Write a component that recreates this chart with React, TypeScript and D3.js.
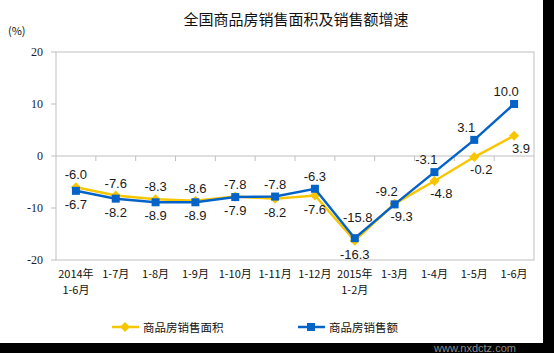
import React from "react";
import * as d3 from "d3";

const W = 554;
const H = 353;
const margin = { top: 52, right: 20, bottom: 93, left: 56 };

const categories = ["2014年\n1-6月", "1-7月", "1-8月", "1-9月", "1-10月", "1-11月", "1-12月", "2015年\n1-2月", "1-3月", "1-4月", "1-5月", "1-6月"];
const areaGrowth = [-6.0, -7.6, -8.3, -8.6, -7.8, -8.2, -7.6, -16.3, -9.2, -4.8, -0.2, 3.9];
const amountGrowth = [-6.7, -8.2, -8.9, -8.9, -7.9, -7.8, -6.3, -15.8, -9.3, -3.1, 3.1, 10.0];
const yTicks = [20, 10, 0, -10, -20];
// where each value label sits relative to its point
const areaLabelPos = ["up", "up", "up", "up", "up", "down", "down", "down", "upleft", "downright", "downright", "downright"];
const amountLabelPos = ["down", "down", "down", "down", "down", "up", "up", "upfar", "downright", "upleft", "upleft", "upleft"];

const YELLOW = "#F7C600";
const BLUE = "#0563C8";
const GRID = "#BFBFBF";

function labelOffset(pos: string) {
  if (pos === "up") return { dx: 0, dy: -8 };
  if (pos === "down") return { dx: 0, dy: 18 };
  if (pos === "upleft") return { dx: -8, dy: -8 };
  if (pos === "upfar") return { dx: 3, dy: -16 };
  return { dx: 7, dy: 17 };
}

export default function App() {
  const x = d3.scaleBand().domain(categories).range([margin.left, W - margin.right]);
  const y = d3.scaleLinear().domain([-20, 20]).range([H - margin.bottom, margin.top]);
  const cx = (i: number) => (x(categories[i]) as number) + x.bandwidth() / 2;

  const mkLine = d3.line<number>().x((_, i) => cx(i)).y((d) => y(d));

  const series = [
    { name: "商品房销售面积", values: areaGrowth, color: YELLOW, marker: "diamond", pos: areaLabelPos },
    { name: "商品房销售额", values: amountGrowth, color: BLUE, marker: "square", pos: amountLabelPos },
  ];

  const marker = (kind: string, px: number, py: number, color: string, key?: string) =>
    kind === "square" ? (
      <rect key={key} x={px - 4} y={py - 4} width={8} height={8} fill={color} />
    ) : (
      <path key={key} d={`M${px},${py - 5}L${px + 5},${py}L${px},${py + 5}L${px - 5},${py}Z`} fill={color} />
    );

  const x0 = margin.left;
  const x1 = W - margin.right;

  return (
    <svg width={W} height={H} style={{ position: "absolute", left: 0, top: 0, background: "#fff" }}>
      <rect width={W} height={H} fill="#fff" />
      <text x={296} y={25} textAnchor="middle" fontSize={15} fontFamily="Noto Sans CJK SC" fill="#111">
        全国商品房销售面积及销售额增速
      </text>
      <text x={8} y={35} fontSize={11} fontFamily="Noto Sans CJK SC" fill="#111">(%)</text>

      {/* frame */}
      <rect x={x0} y={y(20)} width={x1 - x0} height={y(-20) - y(20)} fill="none" stroke={GRID} />
      <line x1={x0} x2={x1} y1={y(0)} y2={y(0)} stroke={GRID} />
      {categories.slice(1).map((c) => (
        <line key={c} x1={x(c)} x2={x(c)} y1={y(0)} y2={y(0) + 5} stroke={GRID} />
      ))}
      {yTicks.map((t) => (
        <g key={t}>
          <line x1={x0 - 5} x2={x0} y1={y(t)} y2={y(t)} stroke={GRID} />
          <text x={43} y={y(t) + 4} textAnchor="end" fontSize={12} fontFamily="Liberation Serif" fill="#1c1c30">
            {t}
          </text>
        </g>
      ))}

      {/* category labels */}
      {categories.map((c, i) =>
        c.split("\n").map((part, j) => (
          <text key={c + j} x={cx(i)} y={y(-20) + 18 + j * 16} textAnchor="middle" fontSize={11}
            fontFamily="Noto Sans CJK SC" fill="#111">
            {part}
          </text>
        ))
      )}

      {/* lines */}
      {series.map((s) => (
        <g key={s.name}>
          <path d={mkLine(s.values) as string} fill="none" stroke={s.color} strokeWidth={2.5} />
          {s.values.map((v, i) => marker(s.marker, cx(i), y(v), s.color, s.name + i))}
        </g>
      ))}
      {series.map((s) =>
        s.values.map((v, i) => {
          const o = labelOffset(s.pos[i]);
          return (
            <text key={s.name + "l" + i} x={cx(i) + o.dx} y={y(v) + o.dy} textAnchor="middle" fontSize={13}
              fontFamily="Liberation Sans" fill="#1a1a1a">
              {v.toFixed(1)}
            </text>
          );
        })
      )}

      {/* legend */}
      {series.map((s, i) => {
        const lx = 112 + i * 186;
        return (
          <g key={s.name + "lg"}>
            <line x1={lx} x2={lx + 27} y1={327} y2={327} stroke={s.color} strokeWidth={2.5} />
            {marker(s.marker, lx + 13, 327, s.color)}
            <text x={lx + 31} y={332} fontSize={11.5} fontFamily="Noto Sans CJK SC" fill="#111">{s.name}</text>
          </g>
        );
      })}

      {/* dark edges with watermark */}
      <rect x={543} y={0} width={11} height={H} fill="#000" />
      <rect x={0} y={343} width={W} height={10} fill="#000" />
      <text x={475} y={352} textAnchor="middle" fontSize={11} fontFamily="Liberation Sans" fill="#8a8a8a">
        www.nxdctz.com
      </text>
    </svg>
  );
}
